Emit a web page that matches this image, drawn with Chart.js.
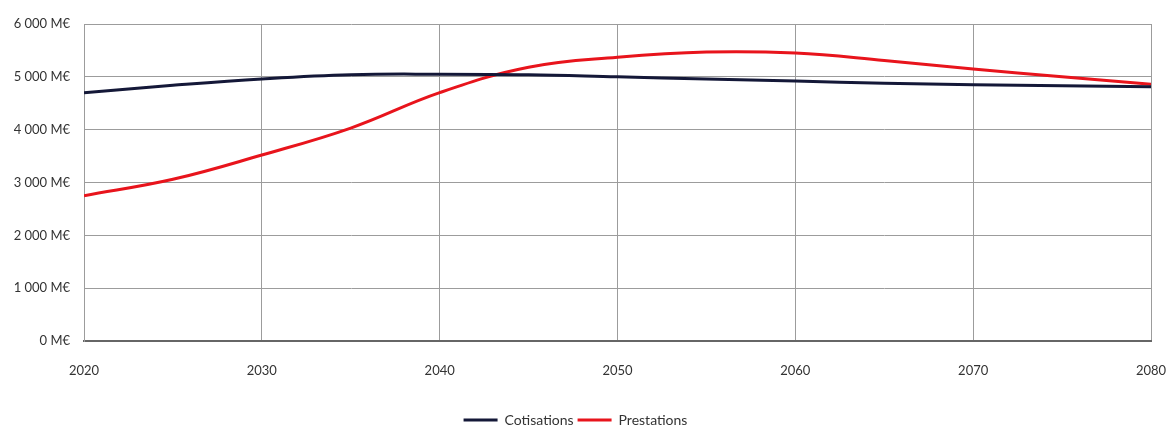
<!DOCTYPE html>
<html>
<head>
<meta charset="utf-8">
<script src="https://cdn.jsdelivr.net/npm/chart.js@4"></script>
<style>
    html, body { margin: 0; padding: 0; background: #fff; }
    #wrap { width: 1171px; height: 430px; }
</style>
</head>
<body>
<div id="wrap"><canvas id="chart" width="1171" height="430"></canvas></div>
<script>
// Years and values (M€)
const years = [2020, 2025, 2030, 2035, 2040, 2045, 2050, 2055, 2060, 2065, 2070, 2075, 2080];
const cotisations = [4700, 4840, 4960, 5040, 5050, 5040, 5000, 4960, 4920, 4880, 4850, 4830, 4810];
const prestations = [2750, 3060, 3520, 4030, 4700, 5180, 5370, 5470, 5450, 5310, 5150, 5000, 4860];
const yTicks = [0, 1000, 2000, 3000, 4000, 5000, 6000];

const FONT = "Lato, 'Liberation Sans', sans-serif";

function toPoints(vals) {
    return years.map((y, i) => ({ x: y, y: vals[i] }));
}

// 6000 -> "6 000 M€"
function fmtMe(v) {
    if (v === 0) return '0 M€';
    const s = String(v);
    return s.slice(0, s.length - 3) + '\u202f' + s.slice(-3) + ' M€';
}

const ctx = document.getElementById('chart').getContext('2d');
new Chart(ctx, {
    type: 'line',
    data: {
        datasets: [
            {
                label: 'Cotisations',
                data: toPoints(cotisations),
                borderColor: '#141838',
                backgroundColor: '#141838',
                borderWidth: 3,
                pointRadius: 0,
                tension: 0.4
            },
            {
                label: 'Prestations',
                data: toPoints(prestations),
                borderColor: '#e8141c',
                backgroundColor: '#e8141c',
                borderWidth: 3,
                pointRadius: 0,
                tension: 0.4
            }
        ]
    },
    options: {
        responsive: false,
        animation: false,
        layout: { padding: { top: 24, right: 20, bottom: -7, left: 0 } },
        plugins: {
            tooltip: { enabled: false },
            legend: {
                position: 'bottom',
                labels: {
                    usePointStyle: true,
                    pointStyle: 'line',
                    pointStyleWidth: 34,
                    padding: 4,
                    color: '#333',
                    font: { family: FONT, size: 14 }
                }
            }
        },
        scales: {
            x: {
                type: 'linear',
                min: 2020,
                max: 2080,
                afterFit: (s) => {
                    s.height = 68;
                    s.paddingLeft = 0;
                    s.paddingRight = 0;
                },
                grid: { color: '#9c9c9c', lineWidth: 1, drawTicks: false },
                border: { color: '#666', width: 2 },
                ticks: {
                    stepSize: 10,
                    padding: 22,
                    color: '#333',
                    font: { family: FONT, size: 13 },
                    callback: (v) => String(v)
                }
            },
            y: {
                min: 0,
                max: 6000,
                afterFit: (s) => { s.width = 84; },
                afterBuildTicks: (s) => { s.ticks = yTicks.map(v => ({ value: v })); },
                grid: { color: '#9c9c9c', lineWidth: 1, drawTicks: false },
                border: { color: '#9c9c9c', width: 1 },
                ticks: {
                    padding: 14,
                    color: '#333',
                    font: { family: FONT, size: 13 },
                    callback: (v) => fmtMe(v)
                }
            }
        }
    }
});
</script>
</body>
</html>
